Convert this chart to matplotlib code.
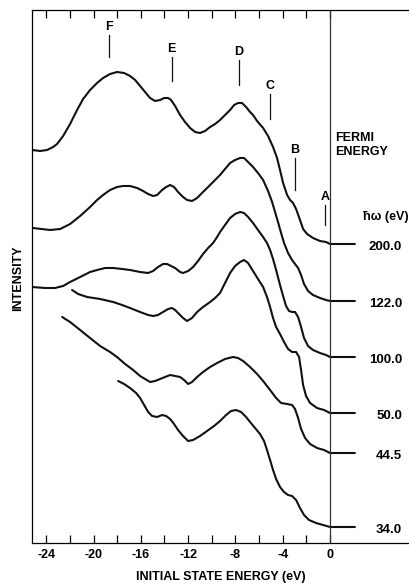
import numpy as np
import matplotlib.pyplot as plt

plt.rcParams['font.family'] = ['Liberation Sans', 'DejaVu Sans']
plt.rcParams['font.weight'] = 'bold'

# photon energies (eV) of the spectra, top to bottom
photon = ['200.0', '122.0', '100.0', '50.0', '44.5', '34.0']

# initial state energy (eV) and intensity (arb. units, offset per spectrum)
e_200 = [-25.19, -24.51, -23.92, -23.42, -23.08, -22.57, -21.98, -21.39, -20.88,
         -20.29, -19.70, -19.19, -18.60, -18.01, -17.41, -16.91, -16.48, -16.06,
         -15.64, -15.22, -14.79, -14.37, -14.03, -13.69, -13.44, -13.10, -12.68,
         -12.26, -11.83, -11.41, -10.99, -10.57, -10.14, -9.72, -9.30, -8.88,
         -8.45, -8.11, -7.78, -7.44, -7.10, -6.76, -6.51, -6.17, -5.66, -5.24,
         -4.82, -4.48, -4.23, -3.97, -3.63, -3.38, -3.13, -2.87, -2.54, -2.28,
         -1.94, -1.44, -0.85, -0.34, 0.0, 2.1]
i_200 = [393, 392, 393, 396, 399, 407, 419, 433, 444,
         453, 460, 465, 469, 471, 470, 467, 463, 457,
         451, 445, 442, 443, 445, 445, 443, 437, 428,
         421, 415, 411, 410, 412, 416, 419, 423, 428,
         433, 438, 440, 440, 436, 431, 428, 422, 415, 407,
         396, 385, 373, 360, 348, 343, 340, 334, 323, 314,
         309, 305, 302, 301, 299, 299]

e_122 = [-25.11, -23.68, -22.82, -21.98, -21.13, -20.29, -19.70, -19.19, -18.60,
         -18.01, -17.50, -16.91, -16.31, -15.81, -15.38, -14.96, -14.62, -14.20,
         -13.86, -13.52, -13.19, -12.85, -12.43, -12.09, -11.67, -11.24, -10.74,
         -10.14, -9.30, -8.88, -8.45, -8.03, -7.61, -7.27, -6.93, -6.51, -6.09,
         -5.66, -5.24, -4.90, -4.65, -4.40, -4.14, -3.89, -3.55, -3.21, -2.96,
         -2.70, -2.45, -2.20, -1.86, -1.44, -0.85, -0.34, 0.0, 2.1]
i_122 = [315, 313, 314, 319, 327, 336, 343, 348, 353,
         356, 357, 357, 355, 352, 349, 347, 348, 353,
         356, 358, 356, 351, 346, 343, 342, 345, 351,
         358, 368, 374, 380, 383, 385, 385, 381, 376, 370,
         363, 352, 341, 331, 321, 310, 300, 290, 283, 279,
         275, 268, 259, 252, 248, 245, 243, 242, 242]

e_100 = [-25.19, -24.09, -23.25, -22.57, -21.98, -21.13, -20.29, -19.70, -19.02,
         -18.34, -17.58, -16.91, -16.06, -15.38, -14.96, -14.54, -14.12, -13.78,
         -13.44, -13.10, -12.68, -12.43, -12.00, -11.58, -11.16, -10.74, -10.31,
         -9.89, -9.55, -9.30, -8.88, -8.45, -8.03, -7.61, -7.27, -6.93, -6.51,
         -6.09, -5.66, -5.33, -5.07, -4.82, -4.56, -4.23, -3.97, -3.72, -3.47,
         -3.21, -2.96, -2.70, -2.45, -2.20, -1.86, -1.44, -0.85, -0.34, 0.0, 2.1]
i_100 = [256, 255, 255, 257, 261, 266, 271, 273, 275,
         275, 274, 273, 271, 270, 272, 276, 279, 279,
         277, 275, 271, 270, 272, 276, 282, 289, 295,
         300, 306, 311, 318, 325, 329, 331, 330, 326, 320,
         313, 306, 300, 293, 284, 273, 258, 247, 237, 232,
         231, 231, 226, 216, 205, 197, 193, 190, 188, 186, 186]

e_50 = [-21.81, -21.30, -20.54, -19.44, -18.34, -17.58, -16.91, -16.06, -15.38,
        -14.96, -14.54, -14.12, -13.69, -13.36, -13.10, -12.85, -12.43, -12.09,
        -11.67, -11.24, -10.74, -10.14, -9.72, -9.30, -8.88, -8.45, -8.03,
        -7.61, -7.27, -6.93, -6.51, -6.09, -5.66, -5.33, -5.07, -4.82, -4.56,
        -4.23, -3.89, -3.55, -3.21, -2.87, -2.62, -2.45, -2.28, -2.03, -1.69,
        -1.10, -0.51, 0.0, 2.1]
i_50 = [253, 249, 246, 244, 241, 238, 235, 231, 228,
        227, 228, 231, 234, 235, 233, 230, 225, 222,
        225, 231, 236, 241, 245, 250, 260, 270, 277,
        281, 283, 280, 272, 264, 256, 246, 236, 225, 216,
        209, 201, 194, 191, 191, 186, 173, 158, 147, 140,
        135, 133, 130, 130]

e_44 = [-22.65, -21.98, -21.13, -20.29, -19.44, -18.60, -18.01, -17.33, -16.65,
        -16.06, -15.64, -15.22, -14.79, -14.37, -13.95, -13.52, -13.10, -12.68,
        -12.34, -12.00, -11.67, -11.24, -10.74, -10.14, -9.55, -8.88, -8.20,
        -7.78, -7.35, -6.76, -6.17, -5.66, -5.07, -4.56, -4.14, -3.63, -3.21,
        -2.96, -2.70, -2.45, -2.11, -1.69, -1.10, -0.51, 0.0, 2.1]
i_44 = [226, 221, 213, 205, 197, 191, 186, 179, 173,
        167, 164, 161, 162, 164, 166, 168, 167, 166,
        163, 159, 161, 166, 171, 176, 180, 184, 186,
        185, 182, 176, 169, 162, 153, 145, 140, 139, 138,
        134, 125, 114, 105, 99, 95, 93, 90, 90]

e_34 = [-17.92, -17.41, -16.91, -16.40, -16.06, -15.72, -15.38, -15.05, -14.62,
        -14.20, -13.86, -13.52, -13.19, -12.85, -12.43, -12.00, -11.58, -10.99,
        -10.40, -9.81, -9.30, -8.79, -8.37, -7.95, -7.52, -7.10, -6.76, -6.34,
        -5.92, -5.58, -5.33, -5.07, -4.82, -4.56, -4.23, -3.89, -3.55, -3.21,
        -2.87, -2.54, -2.20, -1.78, -1.18, -0.59, 0.0, 2.1]
i_34 = [162, 159, 155, 150, 145, 138, 131, 127, 126,
        128, 127, 124, 119, 113, 107, 102, 103, 107,
        112, 117, 122, 128, 132, 133, 131, 126, 121, 115,
        109, 102, 93, 83, 73, 64, 56, 51, 48, 47,
        43, 35, 28, 23, 20, 18, 16, 16]

energies = [e_200, e_122, e_100, e_50, e_44, e_34]
intensities = [i_200, i_122, i_100, i_50, i_44, i_34]

# structure labels A-F and their energies (eV)
peak_names = ['F', 'E', 'D', 'C', 'B', 'A']
peak_energy = [-18.7, -13.4, -7.7, -5.1, -3.0, -0.4]

fig = plt.figure(figsize=(4.1, 5.84), dpi=100)
ax = fig.add_axes([32 / 410, 41 / 584, 378 / 410, 533 / 584])

for lab, e, i in zip(photon, energies, intensities):
    ax.plot(e, i, color='#111111', lw=1.5, solid_joinstyle='round',
            solid_capstyle='round')
    ax.text(6.1, i[-1] - 3, lab, ha='right', va='center', fontsize=9.5,
            fontweight='bold')

# fermi level
ax.axvline(0, color='#333333', lw=0.9)

# marker bars above the top spectrum
bar_low = [486, 462, 458, 424, 353, 318]
bar_len = [22, 24, 25, 25, 32, 20]
for name, e, lo, ln in zip(peak_names, peak_energy, bar_low, bar_len):
    ax.plot([e, e], [lo, lo + ln], color='#111111', lw=0.9)
    ax.text(e, lo + ln + 8, name, ha='center', va='center', fontsize=9,
            fontweight='bold')

ax.text(0.45, 398, 'FERMI\nENERGY', ha='left', va='center', fontsize=9,
        fontweight='bold', linespacing=1.3)
ax.text(2.75, 326, 'ħω (eV)', ha='left', va='center', fontsize=9,
        fontweight='bold')

ax.set_xlim(-25.2, 6.76)
ax.set_ylim(0, 533)
ax.spines['right'].set_visible(False)
for s in ['left', 'top', 'bottom']:
    ax.spines[s].set_linewidth(0.9)
ax.set_xticks(np.arange(-24, 1, 4))
ax.set_xticks(np.arange(-22, 0, 4), minor=True)
ax.set_xticklabels([str(v) for v in range(-24, 1, 4)])
ax.tick_params(axis='x', which='both', direction='in', length=6, width=0.9,
               top=True, labelsize=9, pad=4)
ax.set_yticks([])
for lab in ax.get_xticklabels():
    lab.set_fontweight('bold')

fig.text(221 / 410, 1 - 577 / 584, 'INITIAL STATE ENERGY (eV)', ha='center',
         va='center', fontsize=9, fontweight='bold')
fig.text(18 / 410, 1 - 278 / 584, 'INTENSITY', ha='center', va='center',
         rotation=90, fontsize=9, fontweight='bold')

fig.savefig('out.png', dpi=100)
